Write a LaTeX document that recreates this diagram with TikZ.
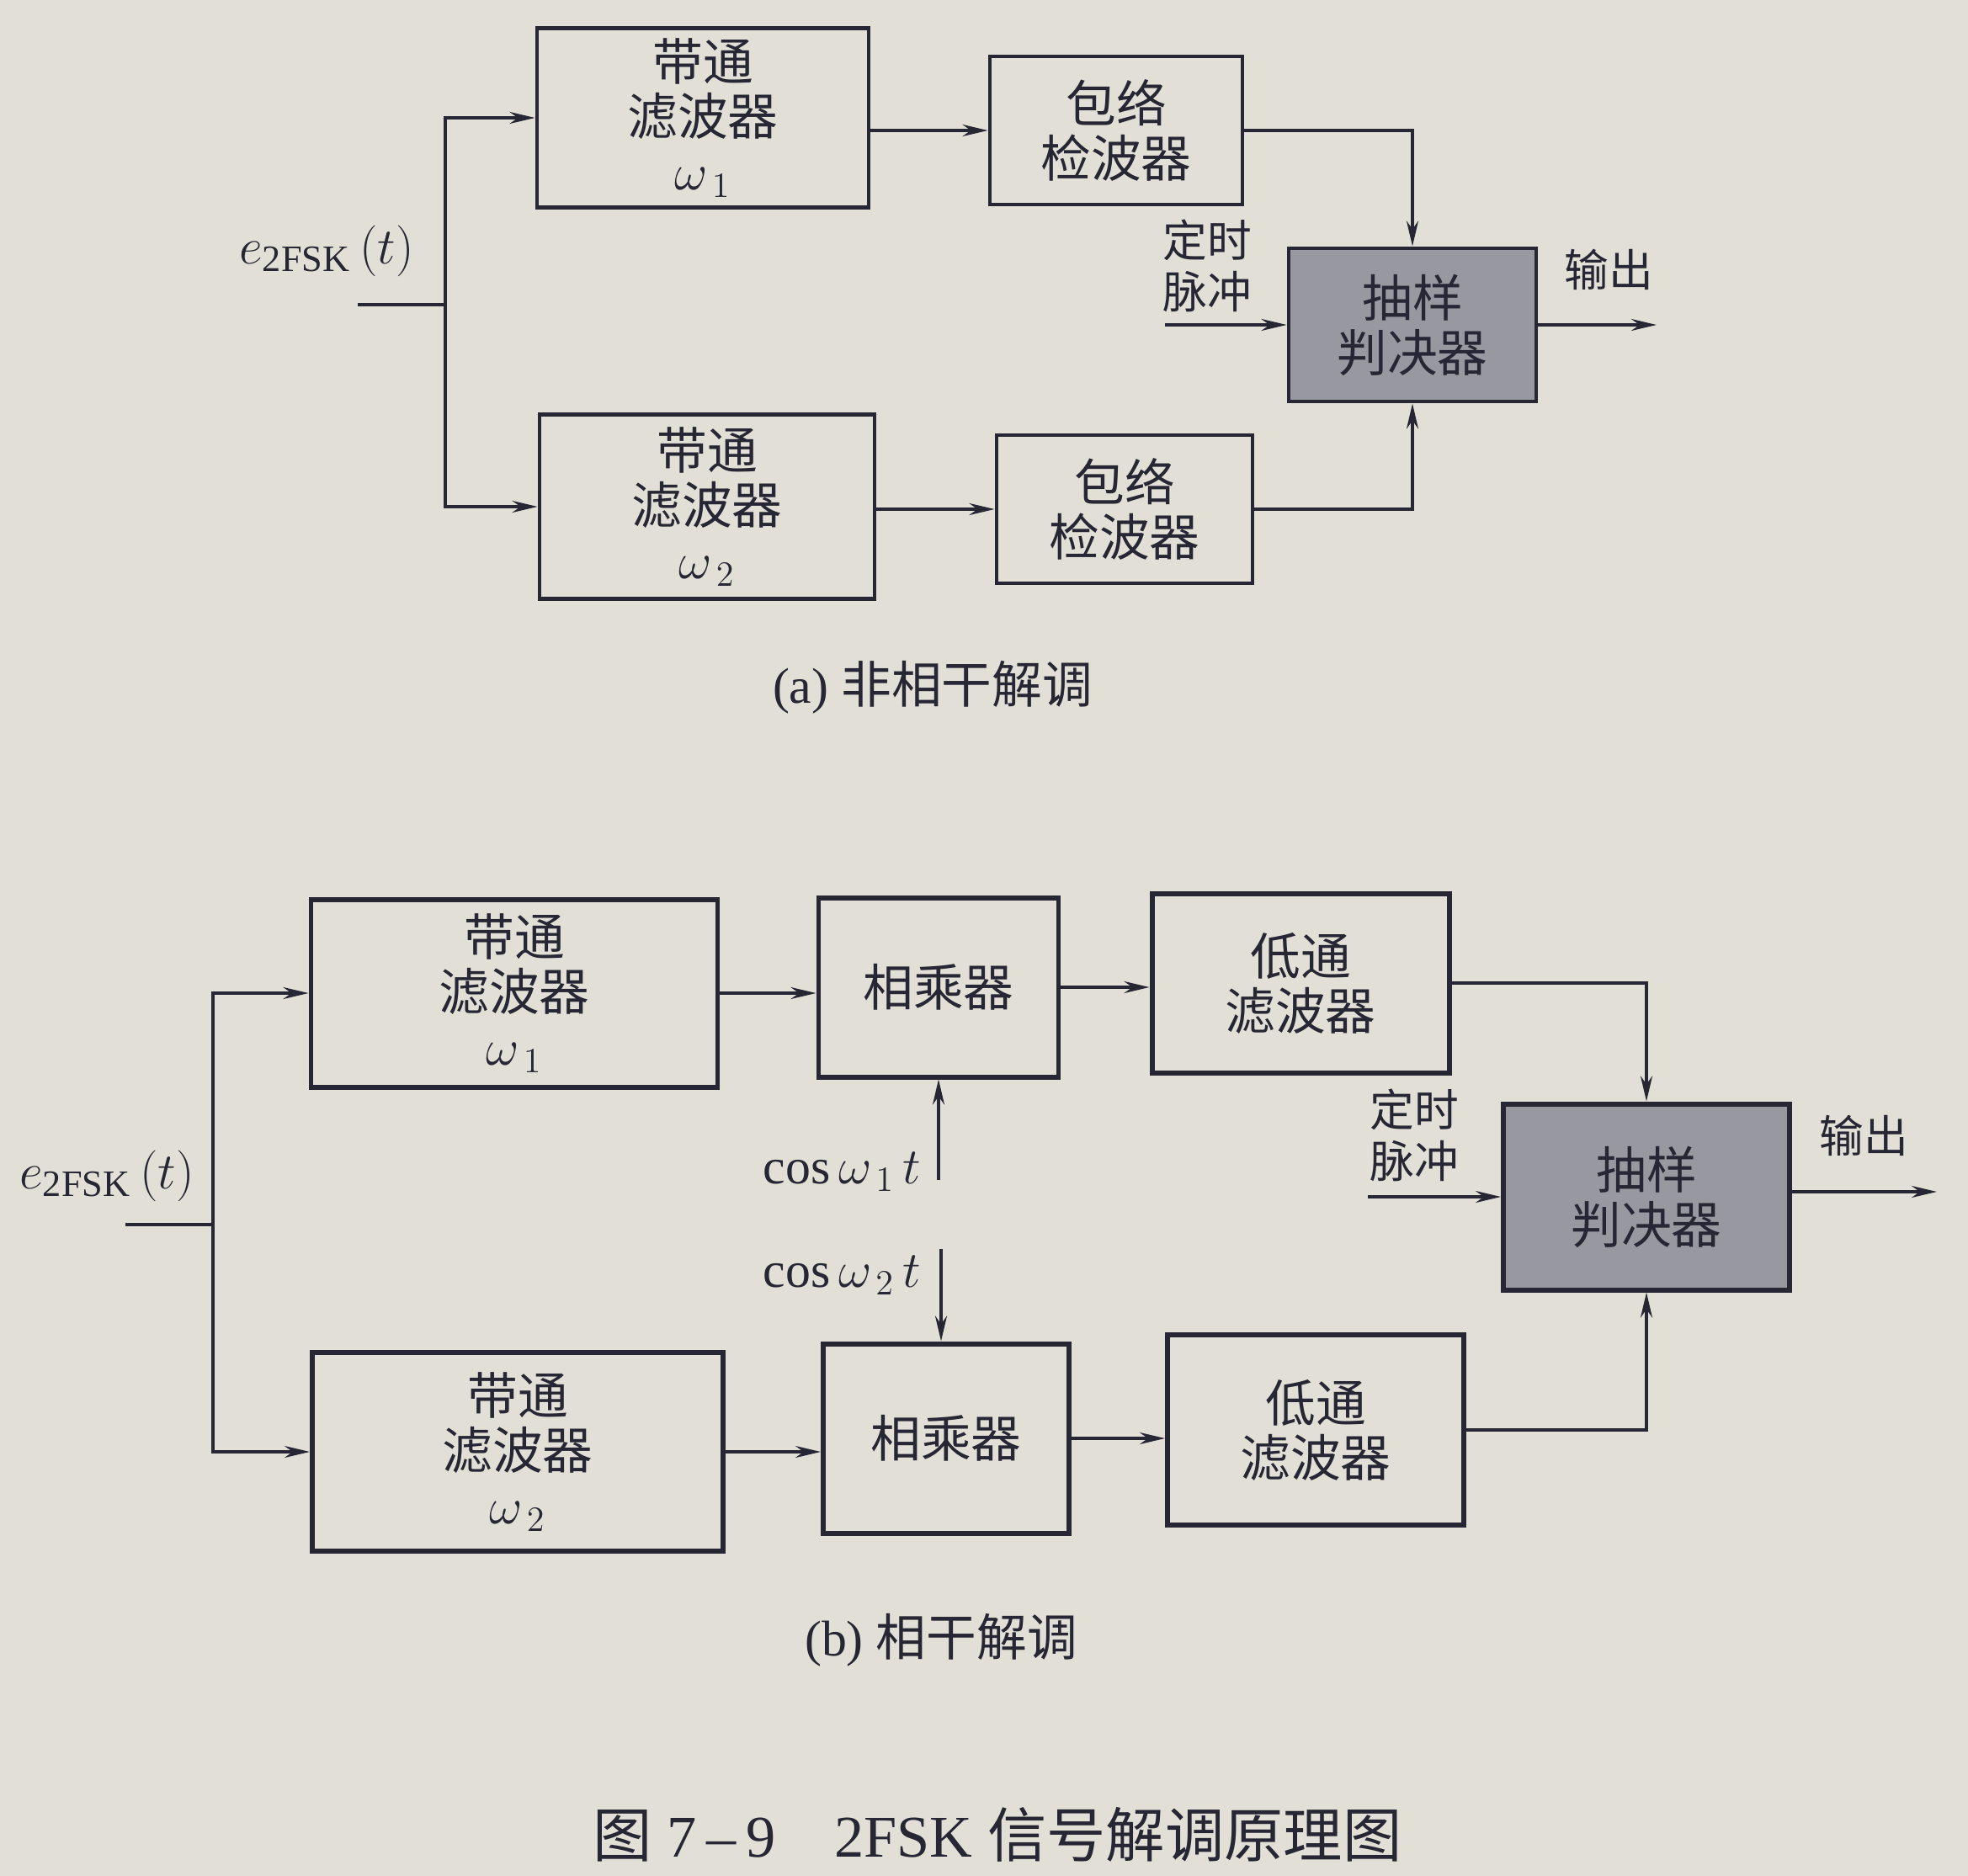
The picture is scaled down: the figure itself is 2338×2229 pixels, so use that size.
\documentclass[tikz,border=0pt]{standalone}
\usepackage{fontspec}
\setmainfont{Liberation Serif}
\newfontfamily\cjk{Noto Sans CJK SC}
\usetikzlibrary{arrows.meta}
\definecolor{ink}{RGB}{38,38,52}
\definecolor{paper}{RGB}{226,224,214}
\definecolor{shade}{RGB}{152,152,160}
\newcommand\boxfont{\cjk\fontsize{17pt}{18.5pt}\selectfont}
\newcommand\lblfont{\cjk\fontsize{15pt}{17.5pt}\selectfont}
\begin{document}
\begin{tikzpicture}[x=0.1mm,y=-0.1mm,
  box/.style={draw=ink, line width=1.4pt, align=center, font=\boxfont, text=ink, inner sep=0pt},
  boxb/.style={box, line width=1.7pt},
  dark/.style={fill=shade},
  arr/.style={draw=ink, line width=1pt, -{Stealth[length=3mm,width=1.4mm]}},
  ln/.style={draw=ink, line width=1pt},
  lbl/.style={text=ink, align=center, font=\lblfont, inner sep=0pt},
  captxt/.style={text=ink, font=\fontsize{17pt}{20pt}\selectfont, inner sep=0pt}]
\fill[paper] (0,0) rectangle (2338,2229);
\useasboundingbox (0,0) rectangle (2338,2229);

% ---------------- (a) ----------------
\node[box, minimum width=39.4mm, minimum height=21.3mm] (bpf1a) at (835,140) {带通\\滤波器\\$\omega_{\,1}$};
\node[box, minimum width=30.0mm, minimum height=17.6mm] (env1) at (1326,155) {包络\\检波器};
\node[box, dark, minimum width=29.4mm, minimum height=18.2mm] (smpa) at (1678,386) {抽样\\判决器};
\node[box, minimum width=39.8mm, minimum height=21.9mm] (bpf2a) at (840,602) {带通\\滤波器\\$\omega_{\,2}$};
\node[box, minimum width=30.4mm, minimum height=17.6mm] (env2) at (1336,605) {包络\\检波器};

\node[captxt, font=\fontsize{18pt}{20pt}\selectfont] (ea) at (388,298) {$e_{\mathrm{2FSK}}\,(t)$};
\coordinate (ina) at (425,362);
\coordinate (ja) at (529,362);
\draw[ln] (ina) -- (ja);
\draw[arr] (ja) |- (bpf1a.west);
\draw[arr] (ja) |- (bpf2a.west);
\draw[arr] (bpf1a.east|-env1.west) -- (env1.west);
\draw[arr] (bpf2a.east|-env2.west) -- (env2.west);
\draw[arr] (env1.east) -| (smpa.north);
\draw[arr] (env2.east) -| (smpa.south);
\node[lbl] (tpa) at (1434,316) {定时\\脉冲};
\coordinate (ta) at (1384,386);
\draw[arr] (ta) -- (smpa.west);
\node[lbl] (outa) at (1911,320) {输出};
\coordinate (oa) at (1968,386);
\draw[arr] (smpa.east) -- (oa);
\node[captxt] (capa) at (1108,817) {(a) {\cjk 非相干解调}};

% ---------------- (b) ----------------
\node[boxb, minimum width=48.3mm, minimum height=22.3mm] (bpf1b) at (611,1180) {带通\\滤波器\\$\omega_{\,1}$};
\node[boxb, minimum width=28.5mm, minimum height=21.3mm] (mul1) at (1115,1173) {相乘器};
\node[boxb, minimum width=35.3mm, minimum height=21.3mm] (lpf1) at (1545,1168) {低通\\滤波器};
\node[boxb, dark, minimum width=34.0mm, minimum height=22.1mm] (smpb) at (1956,1422) {抽样\\判决器};
\node[boxb, minimum width=48.8mm, minimum height=23.6mm] (bpf2b) at (615,1725) {带通\\滤波器\\$\omega_{\,2}$};
\node[boxb, minimum width=29.2mm, minimum height=22.5mm] (mul2) at (1124,1709) {相乘器};
\node[boxb, minimum width=35.2mm, minimum height=22.6mm] (lpf2) at (1563,1699) {低通\\滤波器};

\node[captxt, font=\fontsize{18pt}{20pt}\selectfont] (eb) at (127,1397) {$e_{\mathrm{2FSK}}\,(t)$};
\coordinate (inb) at (149,1455);
\coordinate (jb) at (253,1455);
\draw[ln] (inb) -- (jb);
\draw[arr] (jb) |- (bpf1b.west);
\draw[arr] (jb) |- (bpf2b.west);
\draw[arr] (bpf1b.east) -- (bpf1b.east-|mul1.west);
\draw[arr] (mul1.east) -- (mul1.east-|lpf1.west);
\draw[arr] (bpf2b.east) -- (bpf2b.east-|mul2.west);
\draw[arr] (mul2.east) -- (mul2.east-|lpf2.west);
\draw[arr] (lpf1.east) -| (smpb.north);
\draw[arr] (lpf2.east) -| (smpb.south);

\node[captxt, anchor=east] (cw1) at (1095,1392) {cos\,$\omega_{\,1}\,t$};
\coordinate (c1) at (1115,1402);
\draw[arr] (c1) -- (c1|-mul1.south);
\node[captxt, anchor=east] (cw2) at (1095,1515) {cos\,$\omega_{\,2}\,t$};
\coordinate (c2) at (1118,1484);
\draw[arr] (c2) -- (c2|-mul2.north);

\node[lbl] (tpb) at (1680,1349) {定时\\脉冲};
\coordinate (tb) at (1625,1422);
\draw[arr] (tb) -- (smpb.west);
\node[lbl] (outb) at (2214,1349) {输出};
\coordinate (ob) at (2301,1416);
\draw[arr] (smpb.east|-ob) -- (ob);
\node[captxt] (capb) at (1118,1949) {(b) {\cjk 相干解调}};

\node[captxt, font=\fontsize{20pt}{22pt}\selectfont] (fig) at (1185,2180) {{\cjk 图} 7\,–\,9\quad 2FSK {\cjk 信号解调原理图}};
\end{tikzpicture}
\end{document}
